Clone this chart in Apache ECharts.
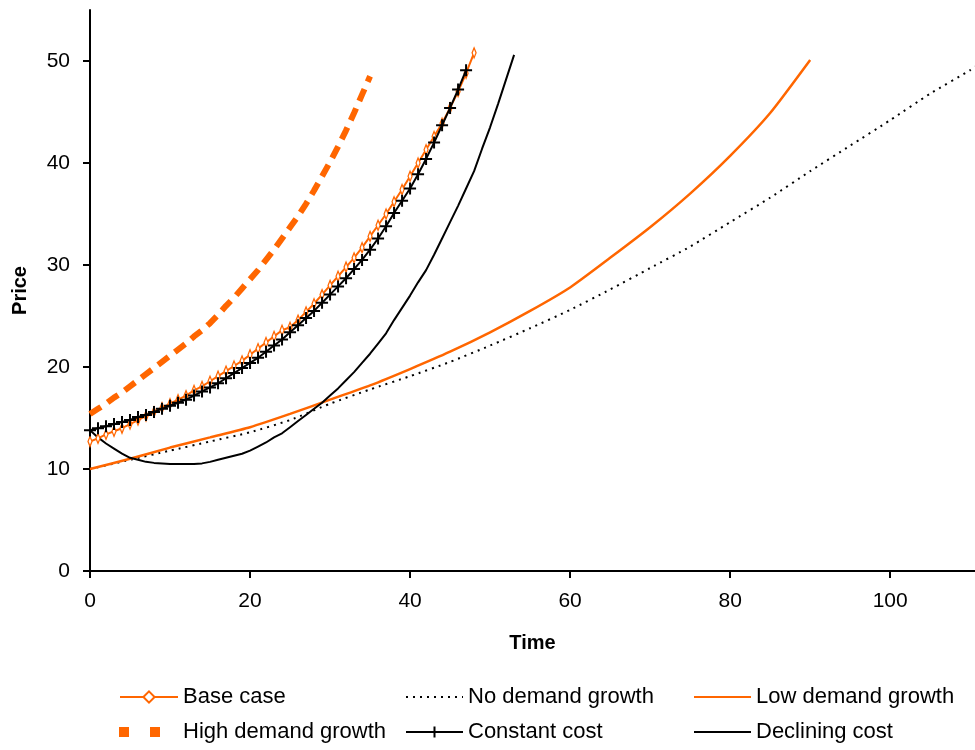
<!DOCTYPE html>
<html>
<head>
<meta charset="utf-8">
<script src="https://cdn.jsdelivr.net/npm/echarts@6/dist/echarts.min.js"></script>
<style>html,body{margin:0;padding:0;background:#fff;}#c{width:975px;height:750px;}</style>
</head>
<body>
<div id="c"></div>
<script>
// Values sampled at unit time steps starting at t = 0
const baseCase = [12.7,13.0,13.4,13.7,14.0,14.4,14.8,15.2,15.6,16.0,16.4,16.8,17.2,17.7,18.1,18.6,19.1,19.6,20.1,20.6,21.2,21.8,22.4,23.0,23.6,23.9,24.6,25.4,26.2,27.1,28.0,28.9,29.8,30.7,31.7,32.8,33.9,35.0,36.2,37.4,38.7,40.0,41.3,42.6,43.9,45.4,47.0,48.8,50.8];
const highDemand = [15.4,15.9,16.4,17.0,17.5,18.1,18.7,19.3,19.9,20.5,21.1,21.7,22.3,23.0,23.6,24.3,25.1,26.0,26.8,27.7,28.6,29.5,30.5,31.5,32.6,33.7,34.8,36.0,37.3,38.7,40.1,41.6,43.2,44.9,46.7,48.5];
const constantCost = [13.8,14.0,14.2,14.4,14.6,14.8,15.1,15.3,15.6,15.9,16.2,16.5,16.8,17.2,17.6,18.0,18.4,18.9,19.4,19.9,20.4,20.9,21.5,22.1,22.7,23.4,24.1,24.8,25.5,26.3,27.1,27.9,28.7,29.6,30.5,31.5,32.6,33.8,35.1,36.3,37.5,38.9,40.4,42.0,43.7,45.4,47.2,49.1];
const decliningCost = [13.8,13.1,12.5,12.0,11.5,11.1,10.9,10.7,10.6,10.55,10.5,10.5,10.5,10.5,10.55,10.7,10.9,11.1,11.3,11.5,11.8,12.2,12.6,13.1,13.5,14.1,14.7,15.3,15.9,16.5,17.2,17.9,18.7,19.5,20.4,21.3,22.3,23.3,24.6,25.8,27.0,28.3,29.5,31.0,32.6,34.2,35.8,37.5,39.2,41.4,43.5,45.8,48.2,50.6];
// Values sampled every 5 time units
const lowDemandTime = [0,5,10,15,20,25,30,35,40,45,50,55,60,65,70,75,80,85,90];
const lowDemand = [10.0,11.0,12.1,13.1,14.1,15.4,16.8,18.2,19.8,21.5,23.4,25.5,27.8,30.7,33.7,37.0,40.7,44.9,50.1];
const noDemandTime = [0,5,10,15,20,25,30,35,40,45,50,55,60,65,70,75,80,85,90,95,100,105,110,112];
const noDemand = [10.0,10.9,11.8,12.7,13.6,14.8,16.4,17.8,19.1,20.5,22.1,23.8,25.6,27.6,29.7,31.8,34.2,36.6,39.2,41.7,44.2,46.8,49.1,50.2];
const xTicks = [0,20,40,60,80,100];
const yTicks = [0,10,20,30,40,50];

const ORANGE = '#FF6600';
const byIndex = arr => arr.map((v, i) => [i, v]);
const zip = (t, v) => t.map((x, i) => [x, v[i]]);

const chart = echarts.init(document.getElementById('c'), null, {renderer: 'canvas'});
const FONT = 'Liberation Sans, Arial, sans-serif';
const legendBase = {
  orient: 'horizontal', itemHeight: 14, itemGap: 0, padding: 0,
  textStyle: {fontFamily: FONT, fontSize: 22, color: '#000', lineHeight: 24},
  selectedMode: false
};
function lg(name, left, top, width, extra) {
  return Object.assign({}, legendBase, {data: [name], left: left, top: top, itemWidth: width}, extra || {});
}
const noMarker = {itemStyle: {opacity: 0}};
chart.setOption({
  animation: false,
  backgroundColor: '#fff',
  grid: {left: 90, right: 0, top: 10, bottom: 179, containLabel: false},
  xAxis: {
    type: 'value', min: 0, max: 110.6, interval: 20,
    name: 'Time', nameLocation: 'middle', nameGap: 62,
    nameTextStyle: {fontFamily: FONT, fontSize: 20, fontWeight: 'bold', color: '#000'},
    axisLine: {lineStyle: {color: '#000', width: 2}},
    axisTick: {length: 7, lineStyle: {color: '#000', width: 2}},
    axisLabel: {fontFamily: FONT, fontSize: 21, color: '#000', margin: 20, showMaxLabel: false,
      formatter: v => xTicks.includes(v) ? String(v) : ''},
    splitLine: {show: false}
  },
  yAxis: {
    type: 'value', min: 0, max: 55, interval: 10,
    name: 'Price', nameLocation: 'middle', nameGap: 60,
    nameTextStyle: {fontFamily: FONT, fontSize: 20, fontWeight: 'bold', color: '#000'},
    axisLine: {lineStyle: {color: '#000', width: 2}},
    axisTick: {length: 7, lineStyle: {color: '#000', width: 2}},
    axisLabel: {fontFamily: FONT, fontSize: 21, color: '#000', margin: 20, showMaxLabel: false,
      formatter: v => yTicks.includes(v) ? String(v) : ''},
    splitLine: {show: false}
  },
  legend: [
    lg('Base case', 119, 685, 58),
    lg('No demand growth', 405, 685, 57, noMarker),
    lg('Low demand growth', 693, 685, 57, noMarker),
    lg('High demand growth', 114, 720, 59, Object.assign({lineStyle: {width: 10, type: [10, 21]}}, noMarker)),
    lg('Constant cost', 405, 720, 57),
    lg('Declining cost', 693, 720, 57, noMarker)
  ],
  series: [
    {
      name: 'Base case', type: 'line', data: byIndex(baseCase),
      lineStyle: {color: ORANGE, width: 2},
      symbol: 'path://M0,-5L1.6,0L0,5L-1.6,0Z', symbolSize: [4, 10], showSymbol: true,
      itemStyle: {color: '#fff', borderColor: ORANGE, borderWidth: 1.5},
      z: 3
    },
    {
      name: 'No demand growth', type: 'line', data: zip(noDemandTime, noDemand),
      lineStyle: {color: '#000', width: 2, type: [2, 5]},
      itemStyle: {color: '#000'},
      symbol: 'none', smooth: 0.2
    },
    {
      name: 'Low demand growth', type: 'line', data: zip(lowDemandTime, lowDemand),
      lineStyle: {color: ORANGE, width: 2.5},
      itemStyle: {color: ORANGE},
      symbol: 'none', smooth: 0.2
    },
    {
      name: 'High demand growth', type: 'line', data: byIndex(highDemand),
      lineStyle: {color: ORANGE, width: 6, type: [13, 8]},
      itemStyle: {color: ORANGE},
      symbol: 'none'
    },
    {
      name: 'Constant cost', type: 'line', data: byIndex(constantCost),
      lineStyle: {color: '#000', width: 2},
      symbol: 'path://M0,-5L0,5M-5,0L5,0', symbolSize: 12, showSymbol: true,
      itemStyle: {color: 'none', borderColor: '#000', borderWidth: 2},
      z: 4
    },
    {
      name: 'Declining cost', type: 'line', data: byIndex(decliningCost),
      lineStyle: {color: '#000', width: 2},
      itemStyle: {color: '#000'},
      symbol: 'none'
    }
  ]
});
</script>
</body>
</html>
